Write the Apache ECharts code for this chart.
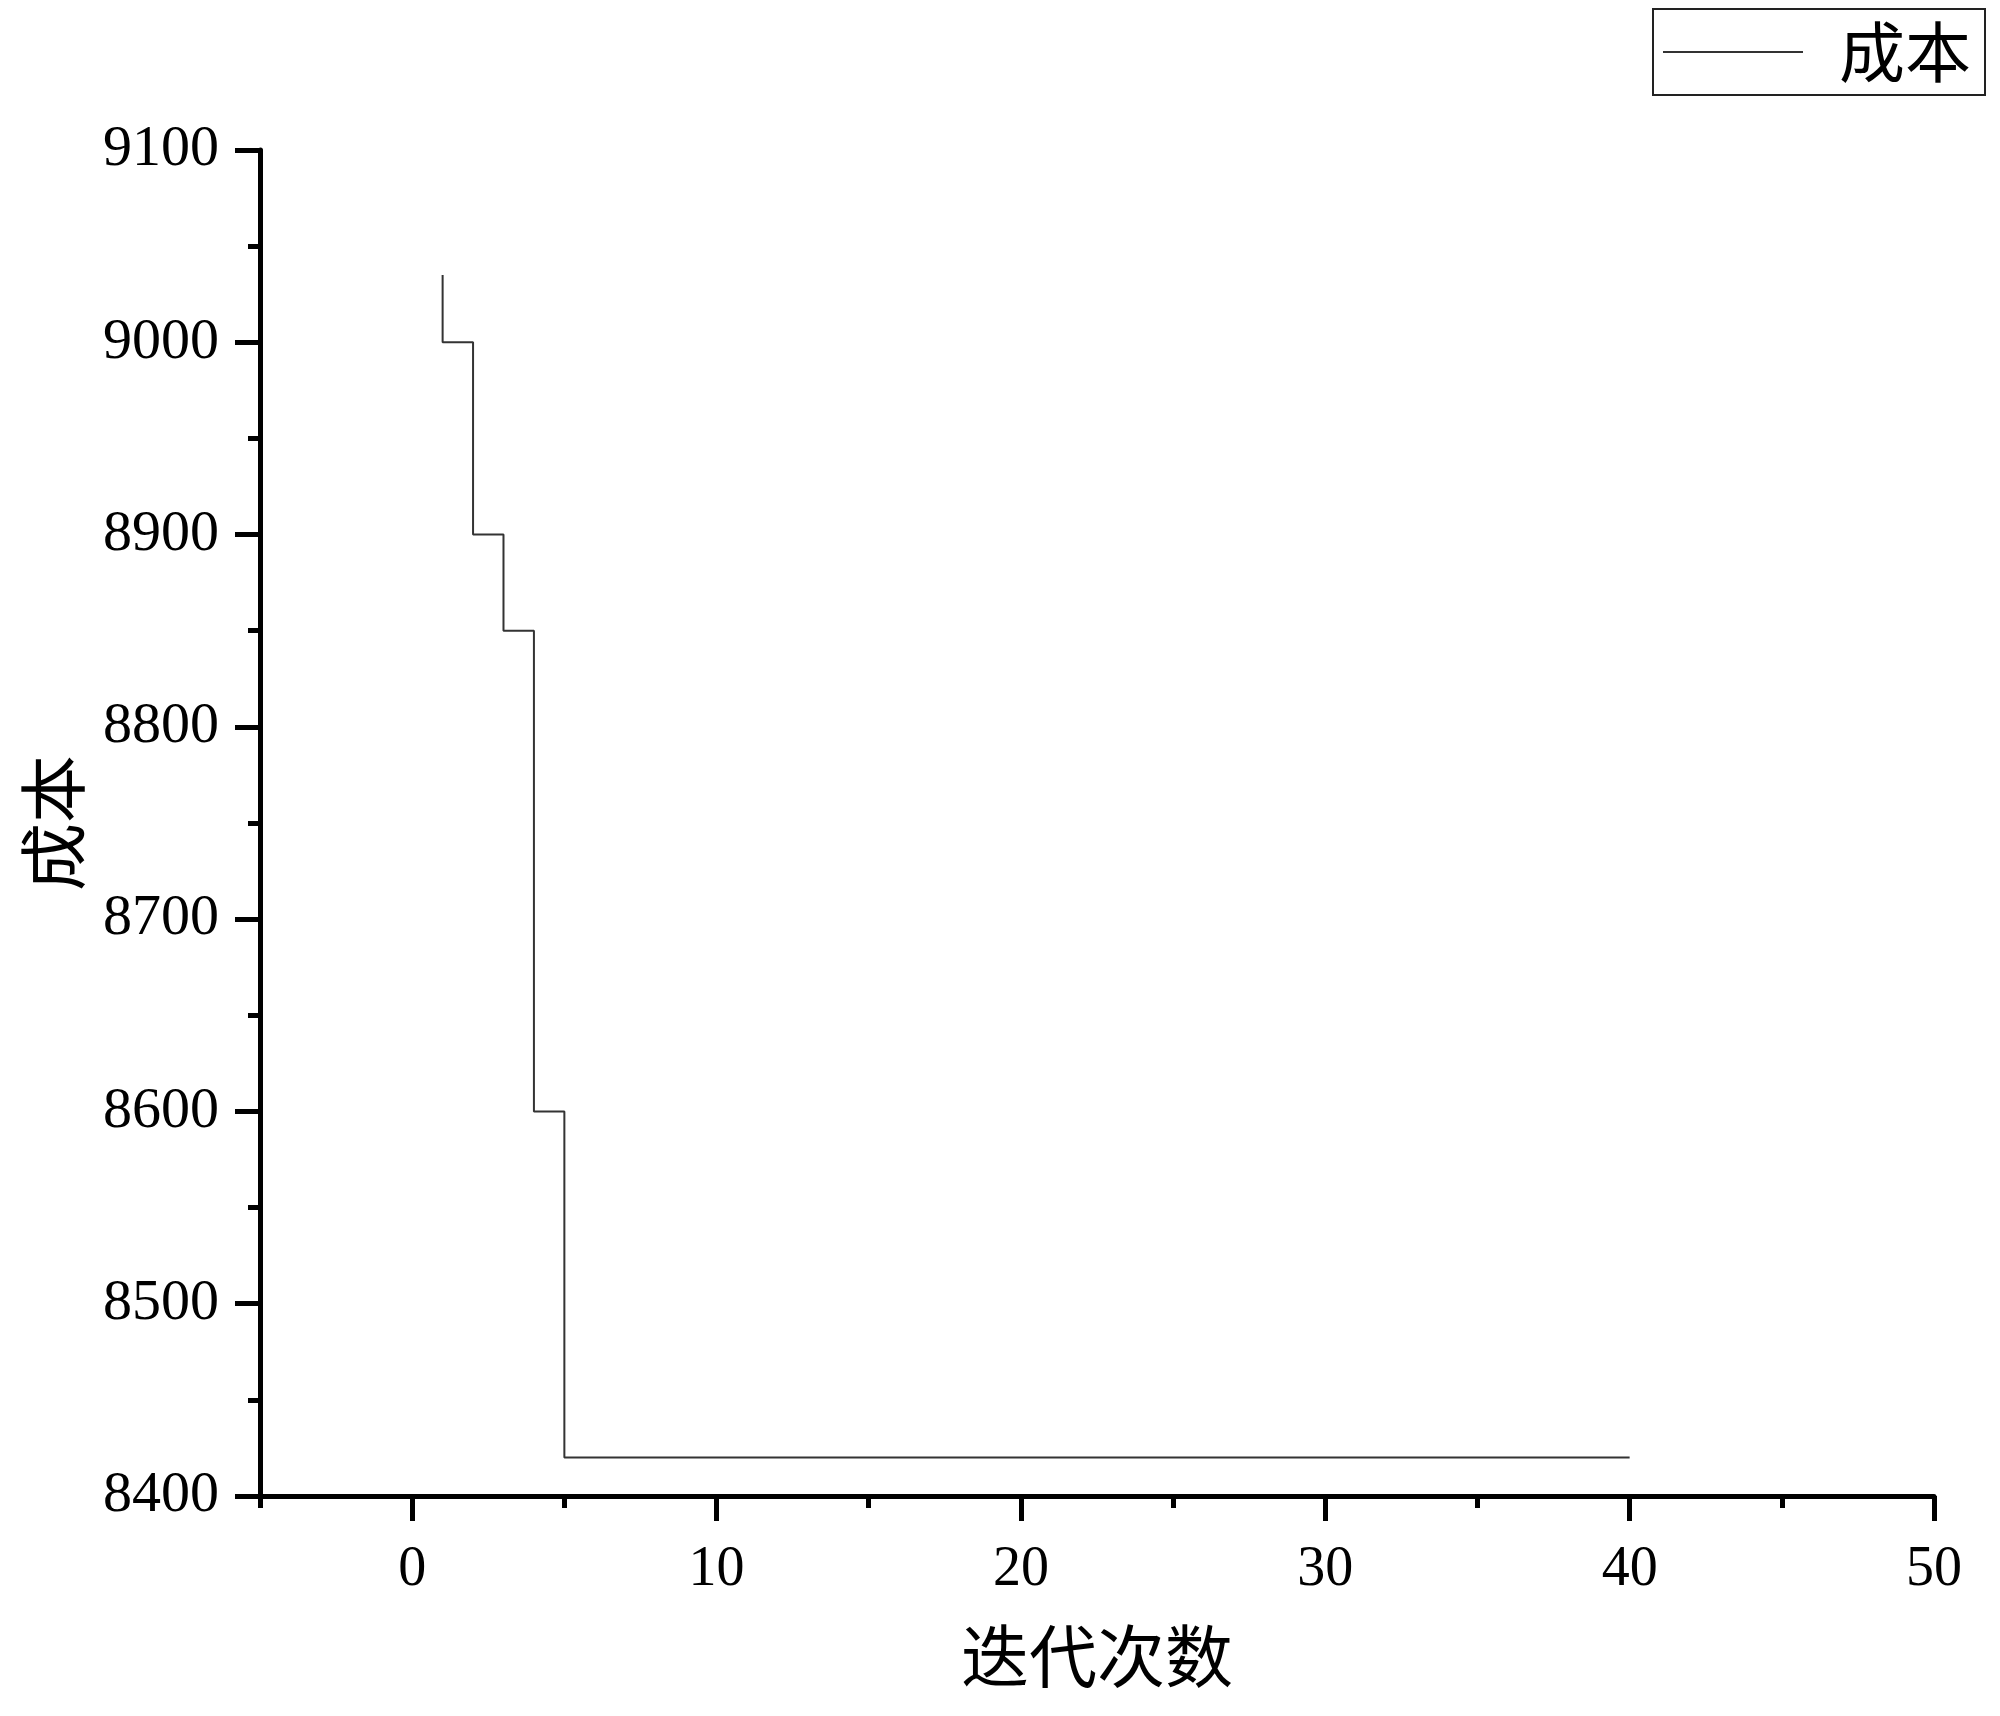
<!DOCTYPE html>
<html>
<head>
<meta charset="utf-8">
<script src="https://cdn.jsdelivr.net/npm/echarts@6/dist/echarts.min.js"></script>
<style>
html,body{margin:0;padding:0;background:#fff;}
#chart{width:2000px;height:1716px;}
</style>
</head>
<body>
<div id="chart"></div>
<script>
// Data
const seriesName = '成本';
const iterations = [1,2,3,4,5,6,7,8,9,10,11,12,13,14,15,16,17,18,19,20,
                    21,22,23,24,25,26,27,28,29,30,31,32,33,34,35,36,37,38,39,40];
const costValues = [9035,9000,8900,8850,8600,8420,8420,8420,8420,8420,
                    8420,8420,8420,8420,8420,8420,8420,8420,8420,8420,
                    8420,8420,8420,8420,8420,8420,8420,8420,8420,8420,
                    8420,8420,8420,8420,8420,8420,8420,8420,8420,8420];
const xMajorTicks = [0,10,20,30,40,50];
const xMinorTicks = [-5,5,15,25,35,45];
const xAxisName = '迭代次数';
const yAxisName = '成本';

const serif = '"Liberation Serif","Times New Roman",serif';
const cjk = '"Noto Sans CJK SC","Noto Sans",sans-serif';

const chart = echarts.init(document.getElementById('chart'), null, {renderer:'canvas'});
chart.setOption({
  backgroundColor:'#fff',
  animation:false,
  grid:{left:260, right:66, top:150, bottom:220, containLabel:false},
  legend:{
    data:[seriesName],
    right:15, top:9,
    orient:'horizontal',
    borderColor:'#222', borderWidth:2, borderRadius:0,
    padding:[10,14,10,10],
    icon:'rect',
    itemWidth:140, itemHeight:2,
    itemStyle:{color:'#333'},
    textStyle:{fontFamily:cjk, fontSize:66, color:'#000', padding:[0,0,0,31]}
  },
  xAxis:[{
    type:'value', min:-5, max:50, position:'bottom',
    name:xAxisName, nameLocation:'middle', nameGap:126,
    nameTextStyle:{fontFamily:cjk, fontSize:68, color:'#000'},
    axisLine:{onZero:false, lineStyle:{color:'#000', width:5}},
    axisTick:{customValues:xMajorTicks, length:25, lineStyle:{color:'#000', width:5}},
    axisLabel:{customValues:xMajorTicks, margin:46, fontFamily:serif, fontSize:56, color:'#000',
               formatter:v=>String(v)},
    splitLine:{show:false}
  },{
    type:'value', min:-5, max:50, position:'bottom',
    axisLine:{show:false, onZero:false},
    axisTick:{customValues:xMinorTicks, length:12, lineStyle:{color:'#000', width:5}},
    axisLabel:{show:false},
    splitLine:{show:false}
  }],
  yAxis:{
    type:'value', min:8400, max:9100, interval:100, position:'left',
    name:yAxisName, nameLocation:'middle', nameGap:173,
    nameTextStyle:{fontFamily:cjk, fontSize:68, color:'#000'},
    axisLine:{show:true, onZero:false, lineStyle:{color:'#000', width:5}},
    axisTick:{show:true, length:25, lineStyle:{color:'#000', width:5}},
    minorTick:{show:true, splitNumber:2, length:12, lineStyle:{color:'#000', width:5}},
    axisLabel:{margin:41, fontFamily:serif, fontSize:58, color:'#000', padding:[10,0,0,0],
               formatter:v=>String(v)},
    splitLine:{show:false},
    minorSplitLine:{show:false}
  },
  series:[{
    name:seriesName,
    type:'line',
    xAxisIndex:0,
    step:'start',
    symbol:'none',
    lineStyle:{color:'#333', width:2},
    itemStyle:{color:'#333'},
    data:iterations.map((x,i)=>[x, costValues[i]])
  }]
});
</script>
</body>
</html>
